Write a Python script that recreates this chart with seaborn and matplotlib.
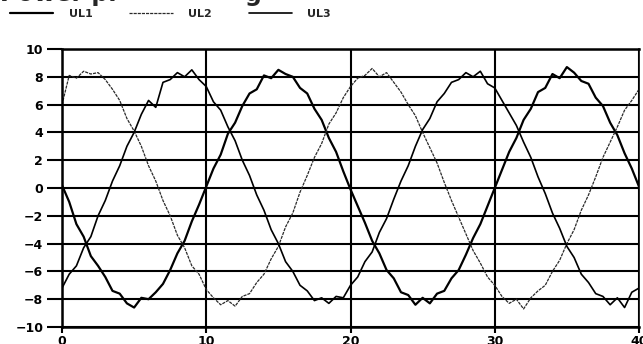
import numpy as np
import pandas as pd
import matplotlib
matplotlib.use("Agg")
import matplotlib.pyplot as plt
from matplotlib.lines import Line2D
import seaborn as sns

# ---- data (0.5 ms sampling) ----
time_step_ms = 0.5
ul1 = [0.2, -1.0, -2.6, -3.5, -4.9, -5.6, -6.4, -7.4, -7.6, -8.3,
       -8.6, -7.9, -8.0, -7.5, -6.9, -5.9, -4.7, -3.8, -2.4, -1.2,
       0.1, 1.4, 2.4, 3.9, 4.7, 5.9, 6.8, 7.1, 8.1, 7.9,
       8.5, 8.2, 8.0, 7.2, 6.8, 5.7, 4.9, 3.6, 2.6, 1.2,
       -0.1, -1.3, -2.5, -3.8, -4.7, -5.9, -6.5, -7.5, -7.7, -8.4,
       -7.9, -8.3, -7.6, -7.4, -6.5, -5.9, -4.8, -3.6, -2.6, -1.3,
       0.0, 1.3, 2.6, 3.6, 4.9, 5.7, 6.9, 7.2, 8.2, 7.9,
       8.7, 8.3, 7.7, 7.5, 6.5, 5.9, 4.7, 3.8, 2.5, 1.4, 0.1]
ul2 = [6.0, 8.1, 7.9, 8.4, 8.2, 8.3, 7.8, 7.1, 6.3, 5.0,
       4.1, 3.0, 1.6, 0.5, -0.9, -2.0, -3.4, -4.3, -5.6, -6.2,
       -7.3, -7.9, -8.4, -8.1, -8.5, -7.8, -7.6, -6.8, -6.2, -5.1,
       -4.2, -2.8, -1.8, -0.3, 0.9, 2.2, 3.2, 4.6, 5.4, 6.5,
       7.3, 7.9, 8.1, 8.6, 8.0, 8.3, 7.6, 6.9, 6.0, 5.2,
       4.0, 2.9, 1.8, 0.4, -0.9, -2.1, -3.3, -4.5, -5.4, -6.4,
       -7.0, -7.8, -8.3, -8.0, -8.7, -7.9, -7.4, -7.0, -6.0, -5.2,
       -4.0, -3.0, -1.6, -0.5, 0.8, 2.2, 3.3, 4.4, 5.6, 6.3, 7.1]
ul3 = [-7.2, -6.2, -5.6, -4.3, -3.5, -2.0, -0.9, 0.5, 1.6, 3.0,
       4.0, 5.3, 6.3, 5.8, 7.6, 7.8, 8.3, 8.0, 8.5, 7.8,
       7.3, 6.2, 5.6, 4.4, 3.4, 2.0, 0.9, -0.5, -1.6, -3.0,
       -4.0, -5.3, -6.0, -7.0, -7.4, -8.1, -7.9, -8.3, -7.8, -7.9,
       -7.0, -6.4, -5.3, -4.6, -3.2, -2.2, -0.8, 0.5, 1.6, 3.0,
       4.2, 5.0, 6.2, 6.8, 7.6, 7.8, 8.3, 8.0, 8.4, 7.5,
       7.2, 6.3, 5.4, 4.5, 3.3, 2.2, 0.8, -0.4, -1.8, -2.9,
       -4.2, -5.0, -6.2, -6.8, -7.6, -7.8, -8.4, -7.9, -8.6, -7.5, -7.2]
series_names = ["UL1", "UL2", "UL3"]
x_ticks = [0, 10, 20, 30, 40]
y_ticks = [-10, -8, -6, -4, -2, 0, 2, 4, 6, 8, 10]
title_left = "Power pl"
title_right = "g"

time_ms = np.arange(len(ul1)) * time_step_ms
df = pd.DataFrame({
    "t": np.tile(time_ms, 3),
    "v": np.concatenate([ul1, ul2, ul3]),
    "phase": np.repeat(series_names, len(time_ms)),
})

sns.set_theme(style="white")
plt.rcParams["font.family"] = ["DejaVu Sans"]

fig = plt.figure(figsize=(6.43, 3.44), dpi=100)
ax = fig.add_axes([62 / 643, 1 - 327 / 344, 577 / 643, 278 / 344])

line_styles = {
    "UL1": dict(color="black", linewidth=1.6, linestyle="-"),
    "UL2": dict(color="#2a2a2a", linewidth=0.9, linestyle=(0, (2.5, 0.8))),
    "UL3": dict(color="black", linewidth=1.2, linestyle="-"),
}
for name in series_names:
    sns.lineplot(data=df[df["phase"] == name], x="t", y="v", ax=ax,
                 legend=False, **line_styles[name])

ax.set_xlim(0, 40)
ax.set_ylim(-10, 10)
ax.set_xticks(x_ticks)
ax.set_yticks(y_ticks)
ax.set_xlabel("")
ax.set_ylabel("")
ax.grid(True, color="black", linewidth=1.5)
ax.set_axisbelow(True)
for side in ["left", "top", "bottom"]:
    ax.spines[side].set_color("black")
    ax.spines[side].set_linewidth(1.8)
ax.spines["right"].set_color("black")
ax.spines["right"].set_linewidth(1.2)

ax.tick_params(axis="y", direction="out", length=10.5, width=1.5, pad=3,
               labelsize=9, left=True, colors="black")
ax.tick_params(axis="x", direction="out", length=4, width=1.5, pad=2,
               labelsize=9, bottom=True, colors="black")
for lbl in ax.get_xticklabels() + ax.get_yticklabels():
    lbl.set_fontweight("bold")

# legend (single row under the clipped title)
handles = [Line2D([0], [0], **line_styles[n]) for n in series_names]
fig.legend(handles, series_names, loc="center left",
           bbox_to_anchor=(10 / 643, 1 - 14 / 344),
           ncol=3, frameon=False, borderpad=0, borderaxespad=0,
           handlelength=3.9, handletextpad=1.4, columnspacing=3.3,
           prop={"weight": "bold", "size": 8})

# clipped title
fig.text(0.0, 1 - 1.5 / 344, title_left, fontsize=17, fontweight="bold",
         va="baseline", ha="left")
fig.text(245 / 643, 1 - 1.5 / 344, title_right, fontsize=17, fontweight="bold",
         va="baseline", ha="left")

fig.savefig("out.png", dpi=100)
